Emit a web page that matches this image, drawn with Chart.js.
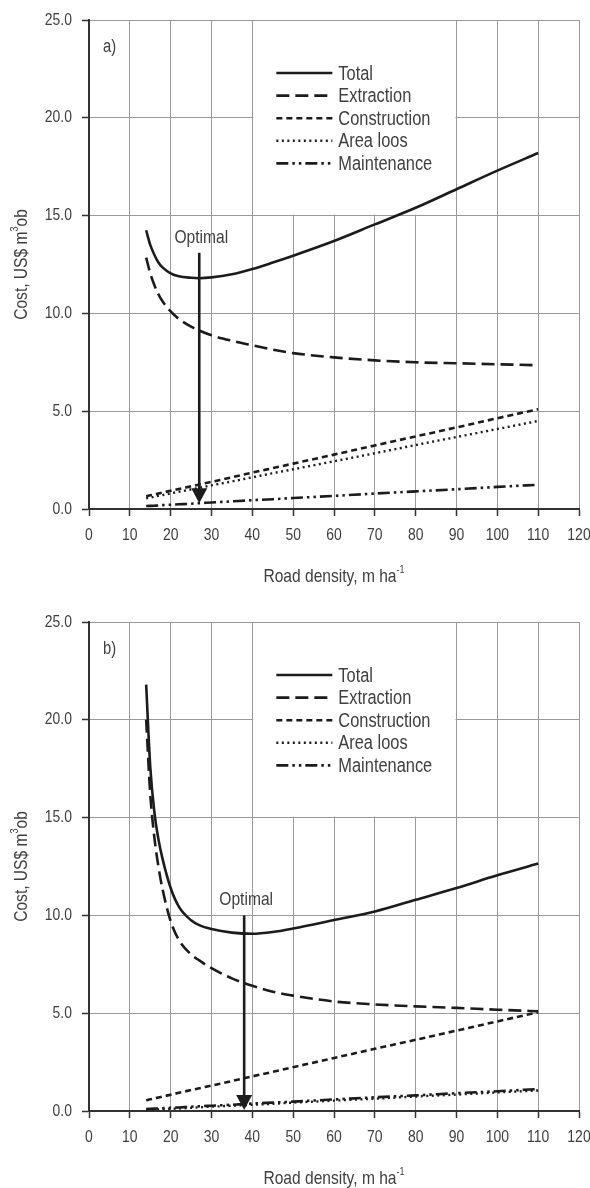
<!DOCTYPE html>
<html><head><meta charset="utf-8">
<script src="https://cdn.jsdelivr.net/npm/chart.js@4.4.1/dist/chart.umd.min.js"></script>
<style>
html,body{margin:0;padding:0;background:#fff;}
body{width:590px;height:1188px;position:relative;overflow:hidden;}
.panel{position:absolute;left:0;width:590px;height:594px;}
#pa{top:0}#pb{top:594px}
</style></head><body>
<div class="panel" id="pa"><canvas id="ca"></canvas></div>
<div class="panel" id="pb"><canvas id="cb"></canvas></div>
<script>
// ---- data ----
const density = [14, 15, 16, 17, 18, 20, 22, 25, 27, 30, 35, 40, 45, 50, 60, 70, 80, 90, 100, 110];
const seriesNames = ['Total', 'Extraction', 'Construction', 'Area loos', 'Maintenance'];

const totalA = [14.25, 13.5, 13.0, 12.6, 12.35, 12.05, 11.9, 11.82, 11.8, 11.84, 12.0, 12.27, 12.6, 12.95, 13.7, 14.55, 15.4, 16.35, 17.3, 18.2];
const extractionA = [12.85, 12.05, 11.45, 10.98, 10.62, 10.1, 9.72, 9.32, 9.12, 8.88, 8.6, 8.37, 8.15, 7.97, 7.75, 7.6, 7.5, 7.45, 7.4, 7.35];
const constructionA = [0.65, 0.70, 0.74, 0.79, 0.84, 0.93, 1.02, 1.16, 1.25, 1.39, 1.62, 1.86, 2.09, 2.32, 2.78, 3.25, 3.71, 4.17, 4.64, 5.1];
const areaLossA = [0.55, 0.59, 0.63, 0.67, 0.71, 0.80, 0.88, 1.00, 1.08, 1.21, 1.41, 1.62, 1.83, 2.03, 2.44, 2.85, 3.27, 3.68, 4.09, 4.5];
const maintenanceA = [0.15, 0.16, 0.17, 0.18, 0.20, 0.22, 0.24, 0.27, 0.30, 0.33, 0.39, 0.45, 0.50, 0.56, 0.67, 0.79, 0.90, 1.01, 1.13, 1.24];

const totalB = [21.8, 17.6, 15.3, 13.9, 12.9, 11.4, 10.45, 9.75, 9.5, 9.3, 9.12, 9.06, 9.15, 9.33, 9.76, 10.2, 10.8, 11.4, 12.05, 12.65];
const extractionB = [20.0, 16.2, 14.0, 12.5, 11.35, 9.7, 8.75, 8.0, 7.7, 7.3, 6.78, 6.4, 6.1, 5.9, 5.6, 5.45, 5.35, 5.27, 5.18, 5.1];
const constructionB = [0.55, 0.60, 0.64, 0.69, 0.74, 0.83, 0.93, 1.07, 1.16, 1.30, 1.53, 1.77, 2.0, 2.24, 2.71, 3.18, 3.64, 4.11, 4.58, 5.05];
const areaLossB = [0.05, 0.06, 0.07, 0.08, 0.09, 0.11, 0.13, 0.16, 0.19, 0.22, 0.27, 0.32, 0.37, 0.43, 0.53, 0.63, 0.74, 0.84, 0.95, 1.05];
const maintenanceB = [0.10, 0.11, 0.12, 0.13, 0.14, 0.16, 0.18, 0.22, 0.24, 0.27, 0.32, 0.38, 0.43, 0.48, 0.59, 0.70, 0.80, 0.91, 1.01, 1.12];

const xTickValues = [0, 10, 20, 30, 40, 50, 60, 70, 80, 90, 100, 110, 120];
const yTickValues = [0, 5, 10, 15, 20, 25];
const panelLabels = ['a)', 'b)'];
const optimalLabel = 'Optimal';
const optimalX = [27, 38];
const optimalTop = [13.1, 10.0];
const optimalTip = [0.3, 0.05];
const yTitle = [{t: 'Cost, US$ m'}, {t: '3', sup: true}, {t: 'ob'}];
const xTitle = [{t: 'Road density, m ha'}, {t: '-1', sup: true}];

// ---- styles ----
const FF = "'Liberation Sans','Arimo',Arial,sans-serif";
const NX = 0.82; // horizontal squeeze to imitate a narrow face
const INK = '#1c1c1c';
const TXT = '#404040';
const dashes = [[], [13, 6], [6, 4], [2, 3.5], [12, 4, 2.5, 4, 2.5, 4]];
const widths = [2.6, 2.6, 2.6, 2.4, 2.6];

function narrowFill(ctx, text, x, y) {
  ctx.save(); ctx.translate(x, y); ctx.scale(NX, 1); ctx.fillText(text, 0, 0); ctx.restore();
}

function drawRich(ctx, parts, size, cx, cy) {
  const sup = Math.round(size * 0.6);
  let w = 0;
  parts.forEach(p => { ctx.font = (p.sup ? sup : size) + 'px ' + FF; w += ctx.measureText(p.t).width * NX; });
  let x = cx - w / 2;
  ctx.textAlign = 'left';
  ctx.textBaseline = 'middle';
  parts.forEach(p => {
    ctx.font = (p.sup ? sup : size) + 'px ' + FF;
    narrowFill(ctx, p.t, x, p.sup ? cy - size * 0.38 : cy);
    x += ctx.measureText(p.t).width * NX;
  });
}

function decor(k) {
  return {
    id: 'decor' + k,
    beforeDraw(chart) {
      // axis tick labels drawn by Chart.js get the same narrow squeeze
      const ctx = chart.ctx;
      if (!ctx._origFill) {
        ctx._origFill = ctx.fillText;
        ctx.fillText = function (t, x, y) {
          this.save(); this.translate(x, y); this.scale(NX, 1);
          ctx._origFill.call(this, t, 0, 0); this.restore();
        };
      }
    },
    beforeDatasetsDraw(chart) {
      const {ctx, scales: {x, y}} = chart;
      if (ctx._origFill) { ctx.fillText = ctx._origFill; delete ctx._origFill; }
      const l = x.getPixelForValue(40) + 1, r = x.getPixelForValue(90) - 1;
      const t = y.getPixelForValue(25) + 1, b = y.getPixelForValue(15) - 1;
      ctx.save(); ctx.fillStyle = '#fff'; ctx.fillRect(l, t, r - l, b - t); ctx.restore();
    },
    afterDatasetsDraw(chart) {
      const {ctx, chartArea: ca, scales: {x, y}} = chart;
      ctx.save();
      // legend
      const bl = x.getPixelForValue(40);
      chart.data.datasets.forEach((d, i) => {
        const yy = ca.top + 53 + i * 22.6;
        ctx.strokeStyle = INK; ctx.lineWidth = d.borderWidth; ctx.setLineDash(d.borderDash);
        ctx.beginPath(); ctx.moveTo(bl + 24, yy); ctx.lineTo(bl + 80, yy); ctx.stroke();
        ctx.setLineDash([]);
        ctx.fillStyle = TXT; ctx.font = '20px ' + FF; ctx.textAlign = 'left'; ctx.textBaseline = 'middle';
        narrowFill(ctx, d.label, bl + 86, yy + 1);
      });
      // optimal arrow
      const px = x.getPixelForValue(optimalX[k]);
      const yt = y.getPixelForValue(optimalTop[k]);
      const yp = y.getPixelForValue(optimalTip[k]);
      ctx.strokeStyle = INK; ctx.lineWidth = 2.6;
      ctx.beginPath(); ctx.moveTo(px, yt); ctx.lineTo(px, yp - 12); ctx.stroke();
      ctx.fillStyle = INK;
      ctx.beginPath(); ctx.moveTo(px, yp); ctx.lineTo(px - 8, yp - 15); ctx.lineTo(px + 8, yp - 15); ctx.closePath(); ctx.fill();
      ctx.fillStyle = TXT; ctx.font = '19px ' + FF; ctx.textAlign = 'center'; ctx.textBaseline = 'alphabetic';
      narrowFill(ctx, optimalLabel, px + 2, yt - 10);
      // panel label
      ctx.font = '18px ' + FF; ctx.textAlign = 'left';
      narrowFill(ctx, panelLabels[k], ca.left + 14, ca.top + 32);
      ctx.restore();
    },
    afterDraw(chart) {
      const {ctx, chartArea: ca} = chart;
      ctx.save();
      ctx.fillStyle = TXT;
      drawRich(ctx, xTitle, 19, (ca.left + ca.right) / 2, ca.bottom + 68);
      ctx.translate(22, (ca.top + ca.bottom) / 2);
      ctx.rotate(-Math.PI / 2);
      drawRich(ctx, yTitle, 19, 0, 0);
      ctx.restore();
    }
  };
}

function makeChart(id, k, series, padTop, xH) {
  const datasets = series.map((v, i) => ({
    label: seriesNames[i],
    data: density.map((d, j) => ({x: d, y: v[j]})),
    borderColor: INK, borderWidth: widths[i], borderDash: dashes[i],
    pointRadius: 0, fill: false, cubicInterpolationMode: 'monotone', borderCapStyle: 'butt'
  }));
  const tickFont = {family: FF, size: 17};
  return new Chart(document.getElementById(id), {
    type: 'line',
    data: {datasets},
    options: {
      responsive: true, maintainAspectRatio: false, animation: false,
      layout: {padding: {top: padTop, right: 11, left: 0, bottom: 0}},
      plugins: {legend: {display: false}, tooltip: {enabled: false}},
      scales: {
        x: {
          type: 'linear', min: 0, max: 120,
          afterBuildTicks: s => { s.ticks = xTickValues.map(v => ({value: v})); },
          ticks: {color: TXT, font: tickFont, padding: 9, maxRotation: 0, autoSkip: false},
          grid: {color: '#9a9a9a', lineWidth: 1, tickLength: 7, tickColor: '#333', tickWidth: 1.5},
          border: {color: '#333', width: 2},
          afterFit: s => { s.height = xH; s.paddingLeft = 0; s.paddingRight = 0; }
        },
        y: {
          min: 0, max: 25,
          afterBuildTicks: s => { s.ticks = yTickValues.map(v => ({value: v})); },
          ticks: {color: TXT, font: tickFont, padding: 10, callback: v => Number(v).toFixed(1)},
          grid: {color: '#9a9a9a', lineWidth: 1, tickLength: 7, tickColor: '#333', tickWidth: 1.5},
          border: {color: '#333', width: 2},
          afterFit: s => { s.width = 89; s.paddingTop = 0; s.paddingBottom = 0; }
        }
      }
    },
    plugins: [decor(k)]
  });
}

makeChart('ca', 0, [totalA, extractionA, constructionA, areaLossA, maintenanceA], 20, 85);
makeChart('cb', 1, [totalB, extractionB, constructionB, areaLossB, maintenanceB], 28, 77);
</script>
</body></html>
